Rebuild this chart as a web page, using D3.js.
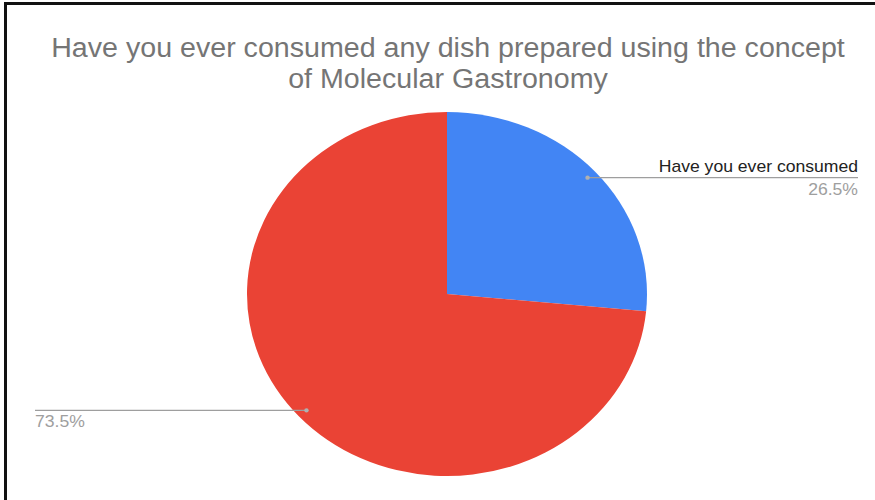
<!DOCTYPE html>
<html>
<head>
<meta charset="utf-8">
<script src="https://cdn.jsdelivr.net/npm/d3@7"></script>
<style>
  html, body { margin: 0; padding: 0; background: #fff; }
  svg { display: block; }
  text { font-family: "Liberation Sans", Arial, sans-serif; }
</style>
</head>
<body>
<svg id="chart" width="875" height="500"></svg>
<script>
// Survey answers and their shares (%)
const categories = ["Have you ever consumed", ""];
const values = [26.5, 73.5];
const percentLabels = ["26.5%", "73.5%"];
const colors = ["#4285f4", "#ea4335"];
const titleLines = [
  "Have you ever consumed any dish prepared using the concept",
  "of Molecular Gastronomy"
];

const W = 875, H = 500;
const svg = d3.select("#chart");

// frame
svg.append("rect")
  .attr("x", 5.5).attr("y", 3.5)
  .attr("width", W + 20).attr("height", H + 20)
  .attr("fill", "#fff")
  .attr("stroke", "#111").attr("stroke-width", 3);

// text helper: places a horizontally widened label
function wideText(parent, x, y, s, str, opts) {
  const t = parent.append("text")
    .attr("transform", `translate(${x},${y}) scale(${s},1)`)
    .attr("x", 0).attr("y", 0)
    .attr("text-anchor", opts.anchor)
    .attr("fill", opts.fill)
    .attr("font-size", opts.size)
    .text(str);
  return t;
}

// title
titleLines.forEach((t, i) => {
  wideText(svg, 448, 57 + i * 31, 1.06, t, { anchor: "middle", fill: "#757575", size: 27 });
});

// pie geometry (drawn slightly wider than tall)
const cx = 447, cy = 294, ry = 182, rx = 200;
const sx = rx / ry;

const data = categories.map((c, i) => ({ name: c, value: values[i], label: percentLabels[i], color: colors[i] }));
const pie = d3.pie().sort(null).value(d => d.value);
const arcs = pie(data);
const arc = d3.arc().innerRadius(0).outerRadius(ry);

const g = svg.append("g")
  .attr("transform", `translate(${cx},${cy}) scale(${sx},1)`);

g.selectAll("path")
  .data(arcs)
  .enter().append("path")
  .attr("d", arc)
  .attr("fill", d => d.data.color);

// leader lines and labels
const lab = svg.append("g");
arcs.forEach(a => {
  const mid = (a.startAngle + a.endAngle) / 2;
  const k = 0.95;
  const px = cx + k * rx * Math.sin(mid);
  const py = cy - k * ry * Math.cos(mid);
  const right = Math.sin(mid) > 0;
  const endX = right ? 858 : 35;
  lab.append("line")
    .attr("x1", px).attr("y1", py)
    .attr("x2", endX).attr("y2", py)
    .attr("stroke", "#9e9e9e").attr("stroke-width", 1.3);
  lab.append("circle")
    .attr("cx", px).attr("cy", py).attr("r", 2.2)
    .attr("fill", "#b0b0b0");
  const anchor = right ? "end" : "start";
  if (a.data.name) {
    wideText(lab, endX, py - 6, 1.1, a.data.name, { anchor, fill: "#222", size: 16 });
  }
  wideText(lab, endX, py + 17, 1.1, a.data.label, { anchor, fill: "#9e9e9e", size: 16 });
});
</script>
</body>
</html>
